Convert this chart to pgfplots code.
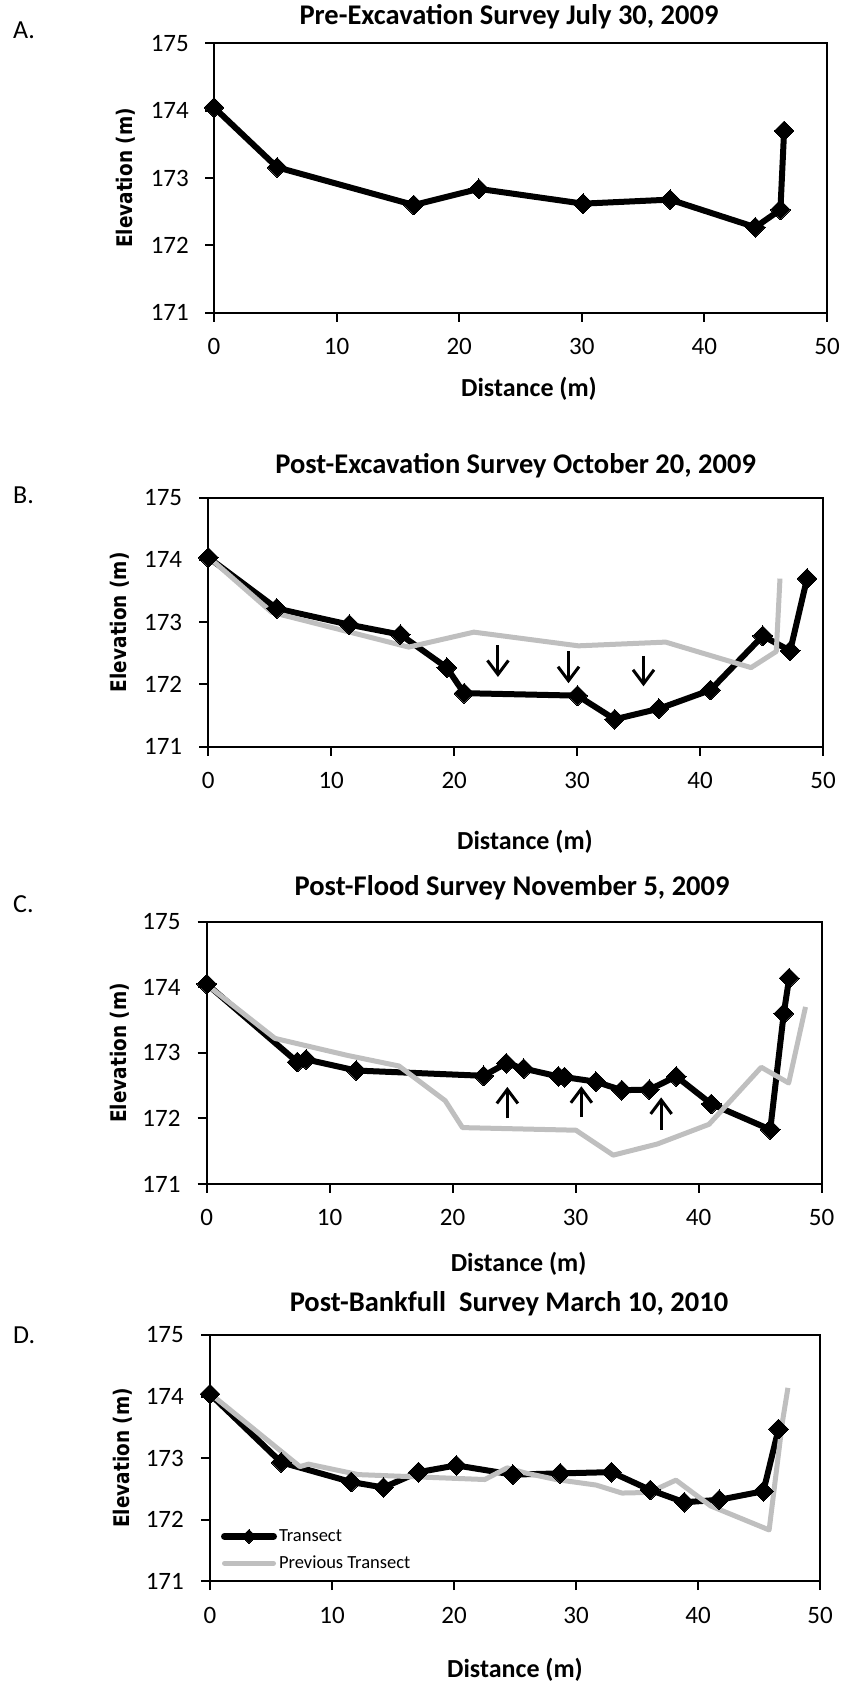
\documentclass[border=0pt]{standalone}
\usepackage{fontspec}
\setmainfont{Carlito}
\newfontfamily\dvfont{DejaVu Sans}
\usepackage{graphicx}
\usepackage{pgfplots}
\usepackage{pgfplotstable}
\pgfplotsset{compat=1.18}
\usetikzlibrary{arrows.meta}
\definecolor{prevgray}{RGB}{191,191,191}

\pgfplotstableread{
x y
0 174.05
5.15 173.16
16.3 172.60
21.6 172.84
30.1 172.62
37.2 172.68
44.15 172.27
46.2 172.53
46.5 173.70
}\dataA
\pgfplotstableread{
x y
0 174.04
5.56 173.22
11.47 172.96
15.63 172.80
19.4 172.27
20.8 171.86
30.03 171.82
33.06 171.44
36.65 171.61
40.85 171.91
45.1 172.78
47.33 172.54
48.7 173.70
}\dataB
\pgfplotstableread{
x y
0 174.05
7.37 172.86
8.08 172.90
12.16 172.73
22.52 172.65
24.36 172.84
25.77 172.76
28.6 172.64
29.1 172.63
31.65 172.56
33.76 172.43
36.0 172.44
38.19 172.64
41.04 172.22
45.83 171.83
46.93 173.60
47.37 174.14
}\dataC
\pgfplotstableread{
x y
0 174.04
5.83 172.93
11.57 172.61
14.22 172.52
17.09 172.77
20.19 172.88
24.82 172.73
28.71 172.75
32.9 172.77
36.09 172.48
38.87 172.28
41.74 172.32
45.36 172.46
46.6 173.47
}\dataD

\tikzset{arr/.style={black, line width=3pt, -{Straight Barb[length=14pt,width=21pt]}}}
\pgfplotsset{
 panel/.style={
  scale only axis, anchor=south west, clip=false,
  xmin=0,xmax=50,ymin=171,ymax=175,
  xtick={0,10,20,30,40,50}, ytick={171,172,173,174,175},
  axis line style={line width=2pt},
  every tick/.style={black, line width=2pt},
  tick align=outside, major tick length=9pt,
  xtick pos=bottom, ytick pos=left,
  /pgf/number format/assume math mode=true,
  /pgf/number format/set thousands separator={},
  ticklabel style={font=\fontsize{25}{30}\selectfont, inner sep=0pt},
  xticklabel style={anchor=base, yshift=-33pt},
  yticklabel style={anchor=east, xshift=-17pt},
  title style={font=\fontsize{28.5}{32}\selectfont\bfseries, anchor=base, inner sep=0pt},
  xlabel style={font=\fontsize{26}{30}\selectfont\bfseries, anchor=base, inner sep=0pt},
  ylabel style={font=\fontsize{21.5}{25}\selectfont\dvfont\bfseries, anchor=center, inner sep=0pt},
  ylabel={\scalebox{0.86}[1]{Elevation (m)}},
  xlabel={Distance (m)},
 },
 tr/.style={black, line width=6pt, line join=round, mark=square*, mark options={rotate=45, line width=0pt, solid}, mark size=7pt},
 pv/.style={prevgray, line width=5pt, line join=round, no markers},
 trleg/.style={legend image code/.code={\draw[##1, line width=7pt, line cap=round, mark size=5pt, mark repeat=2, mark phase=2] plot coordinates {(3pt,0pt) (27.5pt,0pt) (52pt,0pt)};}},
 pvleg/.style={legend image code/.code={\draw[##1, line cap=round] plot coordinates {(3pt,0pt) (52pt,0pt)};}},
}

\begin{document}
\begin{tikzpicture}[x=1pt,y=1pt]
\useasboundingbox (0,0) rectangle (845,1685);

% Panel A
\begin{axis}[panel, at={(214pt,1372.3pt)}, width=613pt, height=269.2pt,
  title={Pre-Excavation Survey July 30, 2009},
  title style={at={([xshift=-11.5pt,yshift=12.8pt]axis description cs:0.5,1)}},
  xlabel style={at={([xshift=8.5pt,yshift=-84.3pt]axis description cs:0.5,0)}},
  ylabel style={at={([xshift=-88pt]axis description cs:0,0.5)}},
  yticklabel style={xshift=1pt}]
\addplot[tr] table {\dataA};
\end{axis}

% Panel B
\begin{axis}[panel, at={(208.3pt,938.3pt)}, width=614.7pt, height=249pt,
  title={Post-Excavation Survey October 20, 2009},
  title style={at={([yshift=17.7pt]axis description cs:0.5,1)}},
  xlabel style={at={([xshift=9.3pt,yshift=-103.3pt]axis description cs:0.5,0)}},
  ylabel style={at={([xshift=-88.3pt]axis description cs:0,0.5)}}]
\addplot[tr] table {\dataB};
\addplot[pv] table {\dataA};
\draw[arr] (axis cs:23.56,172.63) -- (axis cs:23.56,172.12);
\draw[arr] (axis cs:29.3,172.53) -- (axis cs:29.3,172.02);
\draw[arr] (axis cs:35.4,172.46) -- (axis cs:35.4,171.97);
\end{axis}

% Panel C
\begin{axis}[panel, at={(206.7pt,501pt)}, width=614.8pt, height=262.3pt,
  title={Post-Flood Survey November 5, 2009},
  title style={at={([xshift=-2pt,yshift=20pt]axis description cs:0.5,1)}},
  xlabel style={at={([xshift=4.5pt,yshift=-88pt]axis description cs:0.5,0)}},
  ylabel style={at={([xshift=-86.7pt]axis description cs:0,0.5)}}]
\addplot[tr] table {\dataC};
\addplot[pv] table {\dataB};
\draw[arr] (axis cs:24.45,172.0) -- (axis cs:24.45,172.48);
\draw[arr] (axis cs:30.47,172.02) -- (axis cs:30.47,172.49);
\draw[arr] (axis cs:36.96,171.83) -- (axis cs:36.96,172.32);
\end{axis}

% Panel D
\begin{axis}[panel, at={(210pt,104pt)}, width=610pt, height=246pt,
  title={Post-Bankfull\ \ Survey March 10, 2010},
  title style={at={([xshift=-6pt,yshift=17pt]axis description cs:0.5,1)}},
  xlabel style={at={([yshift=-96pt]axis description cs:0.5,0)}},
  ylabel style={at={([xshift=-87pt]axis description cs:0,0.5)}},
  legend style={draw=none, fill=none, inner sep=0pt, outer sep=0pt,
    font=\fontsize{18.5}{22}\selectfont, row sep=9pt,
    nodes={inner sep=2pt},
    at={([xshift=11pt,yshift=31pt]axis description cs:0,0)}, anchor=west},
  legend cell align=left]
\addplot[tr, trleg] table {\dataD};
\addlegendentry{Transect}
\addplot[pv, pvleg] table {\dataC};
\addlegendentry{Previous Transect}
\end{axis}

\node[anchor=base west, inner sep=0pt, font=\fontsize{26}{30}\selectfont] at (13,1646.7) {A.};
\node[anchor=base west, inner sep=0pt, font=\fontsize{26}{30}\selectfont] at (13,1181) {B.};
\node[anchor=base west, inner sep=0pt, font=\fontsize{26}{30}\selectfont] at (13,772) {C.};
\node[anchor=base west, inner sep=0pt, font=\fontsize{26}{30}\selectfont] at (13,341) {D.};
\end{tikzpicture}
\end{document}
